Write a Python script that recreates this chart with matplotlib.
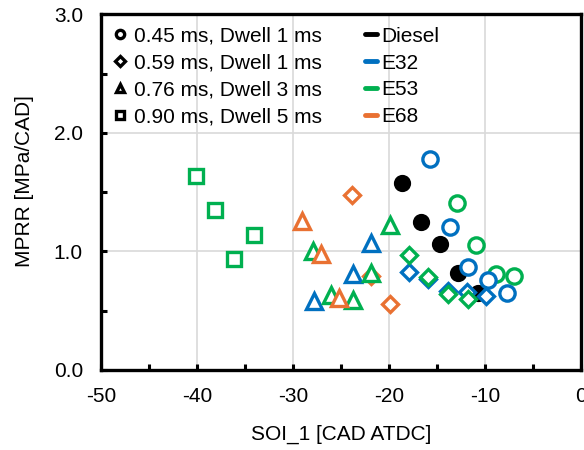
import numpy as np
import matplotlib
matplotlib.use("Agg")
import matplotlib.pyplot as plt
from matplotlib.lines import Line2D

plt.rcParams['font.family'] = ['Liberation Sans', 'DejaVu Sans']
plt.rcParams['font.size'] = 15
plt.rcParams['axes.unicode_minus'] = False

# colours per fuel
fuel_colors = {'Diesel': 'black', 'E32': '#0070C0', 'E53': '#00B050', 'E68': '#E97132'}

# injection groups (legend labels)
group_labels = ['0.45 ms, Dwell 1 ms', '0.59 ms, Dwell 1 ms',
                '0.76 ms, Dwell 3 ms', '0.90 ms, Dwell 5 ms']
group_markers = ['o', 'D', '^', 's']

# data: SOI_1 [CAD ATDC], MPRR [MPa/CAD]
diesel_x = [-18.7, -16.7, -14.7, -12.8, -10.7]
diesel_y = [1.58, 1.25, 1.06, 0.82, 0.65]

e32_circ_x = [-15.7, -13.7, -11.8, -9.7, -7.7]
e32_circ_y = [1.78, 1.21, 0.87, 0.76, 0.65]
e32_diam_x = [-17.9, -15.9, -13.9, -11.9, -9.9]
e32_diam_y = [0.83, 0.77, 0.67, 0.66, 0.62]
e32_tri_x = [-27.8, -23.8, -21.9]
e32_tri_y = [0.58, 0.81, 1.07]

e53_circ_x = [-12.9, -10.9, -8.9, -7.0]
e53_circ_y = [1.41, 1.05, 0.81, 0.79]
e53_diam_x = [-17.9, -15.9, -13.9, -11.8]
e53_diam_y = [0.97, 0.78, 0.64, 0.60]
e53_tri_x = [-27.9, -26.0, -23.8, -21.9, -19.9]
e53_tri_y = [1.00, 0.63, 0.59, 0.82, 1.22]
e53_sq_x = [-40.1, -38.1, -36.1, -34.1]
e53_sq_y = [1.64, 1.35, 0.94, 1.14]

e68_diam_x = [-23.9, -21.9, -19.9]
e68_diam_y = [1.48, 0.79, 0.56]
e68_tri_x = [-29.1, -27.1, -25.2]
e68_tri_y = [1.26, 0.98, 0.61]

fig = plt.figure(figsize=(5.84, 4.5), dpi=100)
ax = fig.add_axes([0.173, 0.178, 0.822, 0.790])

ax.grid(True, color='#D9D9D9', lw=1.2, zorder=0)
ax.set_axisbelow(True)

def pts(x, y, fuel, marker, ms, filled=False):
    c = fuel_colors[fuel]
    ax.plot(x, y, ls='none', marker=marker, ms=ms, mew=2.4, mec=c,
            mfc=c if filled else 'white', zorder=3)

pts(diesel_x, diesel_y, 'Diesel', 'o', 10, filled=True)
pts(e53_circ_x, e53_circ_y, 'E53', 'o', 11)
pts(e32_circ_x, e32_circ_y, 'E32', 'o', 11)
pts(e32_diam_x, e32_diam_y, 'E32', 'D', 8)
pts(e53_diam_x, e53_diam_y, 'E53', 'D', 8)
pts(e68_diam_x, e68_diam_y, 'E68', 'D', 8)
pts(e32_tri_x, e32_tri_y, 'E32', '^', 11)
pts(e53_tri_x, e53_tri_y, 'E53', '^', 11)
pts(e68_tri_x, e68_tri_y, 'E68', '^', 11)
pts(e53_sq_x, e53_sq_y, 'E53', 's', 10)

ax.set_xlim(-50, 0)
ax.set_ylim(0, 3)
ax.set_xticks(np.arange(-50, 1, 10))
ax.set_xticks(np.arange(-50, 1, 5), minor=True)
ax.set_yticks(np.arange(0, 3.01, 1))
ax.set_yticks(np.arange(0, 3.01, 0.5), minor=True)
ax.set_yticklabels(['0.0', '1.0', '2.0', '3.0'])
ax.tick_params(which='both', direction='in', width=2.2, length=4)
ax.tick_params(axis='x', which='major', pad=12)
ax.tick_params(axis='y', which='major', pad=13)
for s in ax.spines.values():
    s.set_linewidth(2.4)
    s.set_zorder(5)

ax.set_xlabel('SOI_1 [CAD ATDC]')
ax.set_ylabel('MPRR [MPa/CAD]')
ax.xaxis.set_label_coords(0.5, -0.155)
ax.yaxis.set_label_coords(-0.14, 0.53)

# legend: shapes
shape_handles = [Line2D([], [], ls='none', marker=m, ms=6 if m != 'D' else 5,
                        mew=2.4, mec='black', mfc='white') for m in group_markers]
leg1 = ax.legend(shape_handles, group_labels, loc='upper left',
                 bbox_to_anchor=(0.0, 0.995), frameon=False, handlelength=0.8,
                 handletextpad=0.3, labelspacing=0.38, borderaxespad=0.2,
                 borderpad=0.3)
ax.add_artist(leg1)

fuel_handles = [Line2D([], [], color=fuel_colors[f], lw=3.5, solid_capstyle='round')
                for f in fuel_colors]
ax.legend(fuel_handles, list(fuel_colors), loc='upper left',
          bbox_to_anchor=(0.528, 0.995), frameon=False, handlelength=0.6,
          handletextpad=0.2, labelspacing=0.38, borderaxespad=0.2,
          borderpad=0.3)

fig.savefig('out.png', dpi=100)
